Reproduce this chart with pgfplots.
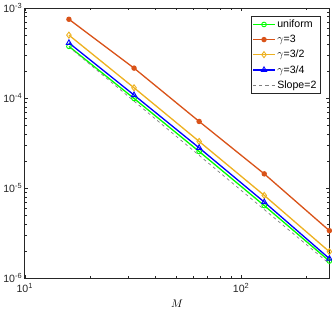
\documentclass[border=0pt]{standalone}
\usepackage{pgfplots}
\pgfplotsset{compat=1.18}
\usepackage{fontspec}
\setmainfont{Liberation Sans}
\definecolor{mred}{rgb}{0.85,0.325,0.098}
\definecolor{myel}{rgb}{0.929,0.694,0.125}
\definecolor{axgray}{rgb}{0.15,0.15,0.15}
\begin{document}
\begin{tikzpicture}[x=1bp,y=1bp]
\begin{axis}[
  xmode=log, ymode=log,
  scale only axis,
  width=301bp, height=267bp,
  xmin=10, xmax=256, ymin=1e-6, ymax=1e-3,
  xtick={10,100}, xticklabels={10\textsuperscript{1},10\textsuperscript{2}},
  ytick={1e-6,1e-5,1e-4,1e-3},
  yticklabels={10\textsuperscript{-6},10\textsuperscript{-5},10\textsuperscript{-4},10\textsuperscript{-3}},
  minor xtick={20,30,40,50,60,70,80,90,200},
  minor ytick={2e-6,3e-6,4e-6,5e-6,6e-6,7e-6,8e-6,9e-6,2e-5,3e-5,4e-5,5e-5,6e-5,7e-5,8e-5,9e-5,2e-4,3e-4,4e-4,5e-4,6e-4,7e-4,8e-4,9e-4},
  tick align=inside,
  major tick length=3bp, minor tick length=2bp,
  axis line style={axgray, line width=0.6bp},
  every tick/.style={axgray, line width=0.5bp},
  tick label style={font=\fontsize{10.5}{12}\selectfont, text=axgray},
  yticklabel style={xshift=1bp},
  xticklabel style={yshift=-2bp},
  xlabel={$M$},
  xlabel style={font=\fontsize{11}{12}\selectfont, yshift=0bp},
  legend style={at={(0.97,0.97)}, anchor=north east, font=\fontsize{10.5}{12}\selectfont,
    draw=axgray, line width=0.5bp, inner xsep=1.5bp, inner ysep=1.5bp, row sep=2bp,
    cells={anchor=west}},
  legend image code/.code={\draw[#1] (0bp,0bp) -- (10bp,0bp) -- (21bp,0bp); \draw[#1, only marks] plot coordinates {(10.5bp,0bp)};},
]
\addplot[color=green, line width=1.3bp, mark=o, mark size=2.3bp, mark options={solid, line width=0.9bp}]
  coordinates {(16,3.75e-4) (32,9.9e-5) (64,2.55e-5) (128,6.4e-6) (256,1.55e-6)};
\addlegendentry{uniform}
\addplot[color=mred, line width=1.3bp, mark=*, mark size=2bp, mark options={solid}]
  coordinates {(16,7.5e-4) (32,2.15e-4) (64,5.5e-5) (128,1.44e-5) (256,3.37e-6)};
\addlegendentry{$\gamma$=3}
\addplot[color=myel, line width=1.3bp, mark=diamond, mark size=3bp, mark options={solid, line width=0.9bp}]
  coordinates {(16,5.0e-4) (32,1.3e-4) (64,3.3e-5) (128,8.3e-6) (256,1.97e-6)};
\addlegendentry{$\gamma$=3/2}
\addplot[color=blue, line width=1.3bp, mark=triangle, mark size=3bp, mark options={solid, line width=0.9bp}]
  coordinates {(16,4.1e-4) (32,1.08e-4) (64,2.8e-5) (128,7.0e-6) (256,1.65e-6)};
\addlegendentry{$\gamma$=3/4}
\addplot[color=gray, dashed, line width=0.7bp, mark=none]
  coordinates {(16,3.7e-4) (32,9.25e-5) (64,2.31e-5) (128,5.78e-6) (256,1.45e-6)};
\addlegendentry{Slope=2}
\end{axis}
\end{tikzpicture}
\end{document}
